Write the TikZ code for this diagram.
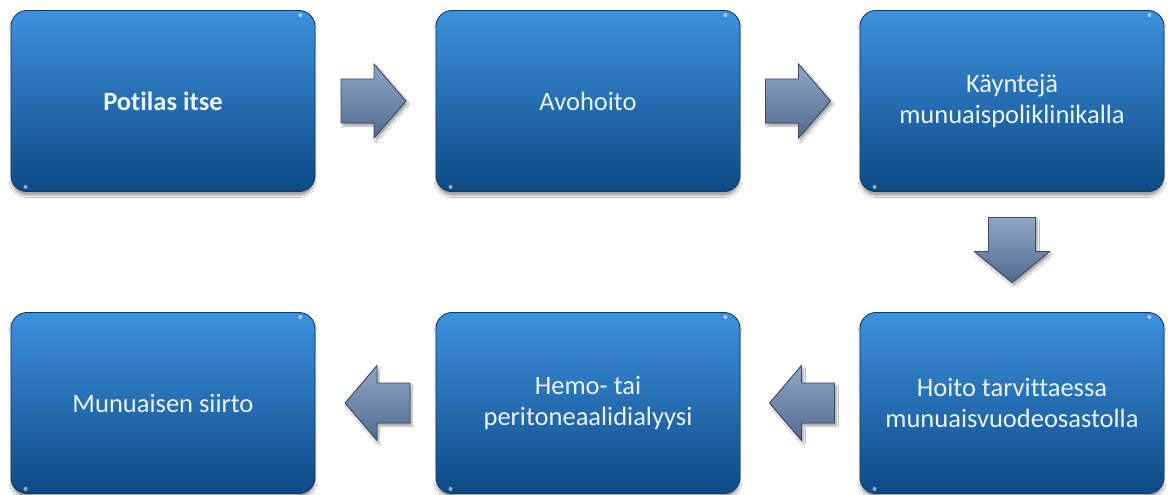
\documentclass[tikz,border=0pt]{standalone}
\usepackage{fontspec}
\setmainfont{Carlito}[Ligatures=NoCommon]
\usetikzlibrary{calc,shadows.blur}
\definecolor{boxtop}{HTML}{3D91DD}
\definecolor{boxbot}{HTML}{0E4A86}
\definecolor{boxedge}{HTML}{0D3B66}
\definecolor{boxtext}{HTML}{EAF4FF}
\definecolor{arrtop}{HTML}{8EA5C6}
\definecolor{arrbot}{HTML}{536B8F}
\definecolor{arredge}{HTML}{3A4960}
\begin{document}
\begin{tikzpicture}[x=1pt,y=-1pt,
  stepbox/.style={rectangle, rounded corners=16pt, minimum width=304pt, minimum height=181pt,
    draw=boxedge, line width=0.9pt, top color=boxtop, bottom color=boxbot, text=boxtext,
    font=\fontsize{26.5}{30.5}\selectfont, align=center,
    blur shadow={shadow xshift=0pt, shadow yshift=-4pt, shadow blur steps=6, shadow opacity=35}},
  blockarrow/.style={draw=arredge, line width=0.9pt, top color=arrtop, bottom color=arrbot,
    line join=miter,
    blur shadow={shadow xshift=2pt, shadow yshift=-3pt, shadow blur steps=5, shadow opacity=35}},
  glint/.style={fill=white, opacity=0.55, draw=none}]
\useasboundingbox[fill=white] (0,0) rectangle (1171,495);

\node[stepbox] (b1) at (163,101) {\textbf{Potilas itse}};
\node[stepbox] (b2) at (588,101) {Avohoito};
\node[stepbox] (b3) at (1012,101) {Käyntejä\\munuaispoliklinikalla};
\node[stepbox] (b4) at (1012,403) {Hoito tarvittaessa\\munuaisvuodeosastolla};
\node[stepbox] (b5) at (588,403) {Hemo- tai\\peritoneaalidialyysi};
\node[stepbox] (b6) at (163,403) {Munuaisen siirto};

\foreach \b in {b1,b2,b3,b4,b5,b6}{
  \fill[glint] ($(\b.north east)+(-15,5)$) circle (2pt);
  \fill[glint] ($(\b.south west)+(15,-5)$) circle (2pt);
}

% right arrows
\coordinate (m12) at ($(b1.east)!0.5!(b2.west)+(-2,0)$);
\coordinate (m23) at ($(b2.east)!0.5!(b3.west)+(-2,0)$);
\foreach \m in {m12,m23}{
  \draw[blockarrow, shift={(\m)}] (-32.5,-22) -- (0.5,-22) -- (0.5,-37) -- (32.5,0)
    -- (0.5,37) -- (0.5,22) -- (-32.5,22) -- cycle;
}
% down arrow
\coordinate (m34) at ($(b3.south)!0.5!(b4.north)+(0,-2)$);
\draw[blockarrow, shift={(m34)}] (-23.5,-32.5) -- (23.5,-32.5) -- (23.5,1.5) -- (37.5,1.5)
  -- (0,32.5) -- (-37.5,1.5) -- (-23.5,1.5) -- cycle;
% left arrows
\coordinate (m45) at ($(b5.east)!0.5!(b4.west)+(2,0)$);
\coordinate (m56) at ($(b6.east)!0.5!(b5.west)+(2,0)$);
\foreach \m in {m45,m56}{
  \draw[blockarrow, shift={(\m)}] (32.5,-20) -- (-0.5,-20) -- (-0.5,-37.5) -- (-32.5,0)
    -- (-0.5,37.5) -- (-0.5,20) -- (32.5,20) -- cycle;
}
\end{tikzpicture}
\end{document}
